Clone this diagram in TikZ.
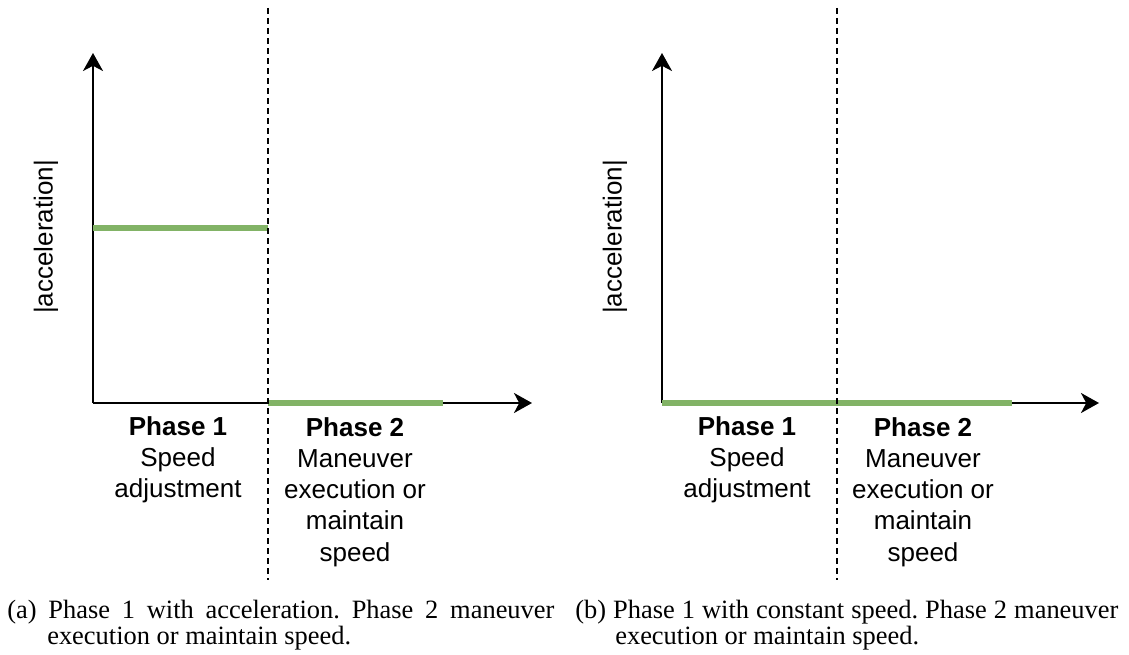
\documentclass[tikz,border=0pt]{standalone}
\usepackage{fontspec}
\setmainfont{Liberation Serif}
\newfontfamily\lblfont{Liberation Sans}
\usepackage{tikz}
\usetikzlibrary{arrows.meta,positioning}

\definecolor{phasegreen}{HTML}{82B366}
\tikzset{
  axis/.style={line width=1.4pt,-{Stealth[length=0.45cm,width=0.5cm,inset=0.13cm]}},
  phasebar/.style={line width=4.2pt,color=phasegreen},
  divider/.style={line width=1pt,dash pattern=on 0.15cm off 0.1cm},
  phaselabel/.style={anchor=north,inner sep=0pt,align=center,font=\lblfont\fontsize{18.5}{22.2}\selectfont},
  ylabel/.style={rotate=90,inner sep=0pt,font=\lblfont\fontsize{18.5}{22}\selectfont},
  caption/.style={anchor=north west,inner sep=0pt,align=left,font=\frenchspacing\fontsize{18.8}{16.6}\selectfont}
}

\begin{document}
\begin{tikzpicture}[x=0.025cm,y=-0.025cm]
    \useasboundingbox (0,0) rectangle (1129,655);
    % (a) Achsen
    \coordinate (oA) at (93,403);
    \coordinate (yA) at (93,53);
    \coordinate (xA) at (532,403);
    \draw[axis] (oA) -- (yA);
    \draw[axis] (oA) -- (xA);
    \node[ylabel] (accA) at (46,237) {|acceleration|};
    % (a) Beschleunigung je Phase
    \coordinate (gA1) at (93,228);
    \coordinate (gA2) at (268,228);
    \coordinate (gA3) at (268,403);
    \coordinate (gA4) at (443,403);
    \draw[phasebar] (gA1) -- (gA2);
    \draw[phasebar] (gA3) -- (gA4);
    % (a) Trennlinie
    \coordinate (dA1) at (268,8);
    \coordinate (dA2) at (268,580);
    \draw[divider] (dA1) -- (dA2);
    \node[phaselabel] (pA1) at (178,416) {\textbf{Phase 1}\\Speed\\adjustment};
    \node[phaselabel] (pA2) at (355,417) {\textbf{Phase 2}\\Maneuver\\execution or\\maintain\\speed};

    % (b) Achsen
    \coordinate (oB) at (662,403);
    \coordinate (yB) at (662,53);
    \coordinate (xB) at (1099,403);
    \draw[axis] (oB) -- (yB);
    \draw[axis] (oB) -- (xB);
    \node[ylabel] (accB) at (615,237) {|acceleration|};
    % (b) Beschleunigung je Phase
    \coordinate (gB1) at (662,403);
    \coordinate (gB2) at (1012,403);
    \draw[phasebar] (gB1) -- (gB2);
    % (b) Trennlinie
    \coordinate (dB1) at (837,8);
    \coordinate (dB2) at (837,580);
    \draw[divider] (dB1) -- (dB2);
    \node[phaselabel] (pB1) at (747,416) {\textbf{Phase 1}\\Speed\\adjustment};
    \node[phaselabel] (pB2) at (923,417) {\textbf{Phase 2}\\Maneuver\\execution or\\maintain\\speed};

    % Bildunterschriften
    \node[caption] (capA) at (7,600) {\makebox[13.675cm][s]{(a) Phase 1 with acceleration. Phase 2 maneuver}\\\hspace*{1cm}execution or maintain speed.};
    \node[caption] (capB) at (575,600) {\makebox[13.575cm][s]{(b) Phase 1 with constant speed. Phase 2 maneuver}\\\hspace*{1cm}execution or maintain speed.};
\end{tikzpicture}
\end{document}
